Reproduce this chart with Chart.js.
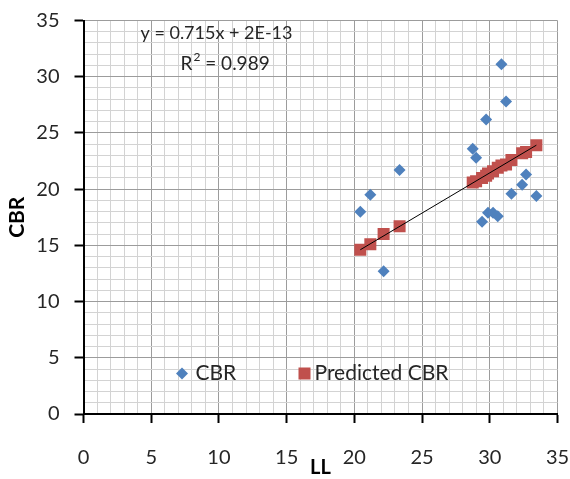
<!DOCTYPE html>
<html>
<head>
<meta charset="utf-8">
<script src="https://cdn.jsdelivr.net/npm/chart.js@4.4.1/dist/chart.umd.min.js"></script>
<style>
  html, body { margin: 0; padding: 0; background: #ffffff; }
  #wrap { width: 570px; height: 479px; }
</style>
</head>
<body>
<div id="wrap"><canvas id="chart" width="570" height="479"></canvas></div>
<script>
// Liquid limit (LL) of each sample
const llValues = [20.44, 21.18, 22.16, 23.34, 28.74, 28.99, 29.43, 29.73, 29.87,
                  30.24, 30.59, 30.86, 31.2, 31.6, 32.39, 32.68, 33.44];
// Measured CBR
const cbrValues = [18.0, 19.5, 12.7, 21.7, 23.6, 22.8, 17.1, 26.2, 17.9,
                   17.9, 17.6, 31.1, 27.8, 19.6, 20.4, 21.3, 19.4];
// CBR predicted by the model
const predictedCbr = [14.6, 15.1, 16.0, 16.7, 20.6, 20.7, 21.0, 21.2, 21.4,
                      21.6, 21.9, 22.1, 22.2, 22.6, 23.2, 23.3, 23.9];
// Linear trendline of the predicted values: y = 0.715x + 2E-13
const trendX = [20.44, 33.44];
const trendY = [14.61, 23.91];
const trendLabel = 'y = 0.715x + 2E-13';
const r2Value = '0.989';

const FONT = 'Lato, "Liberation Sans", sans-serif';
const TEXT = '#262626';
const BLUE = '#4F81BD';
const RED = '#C0504D';

const isMajor = v => Math.abs(v % 5) < 1e-9;

function gridFor() {
  return {
    color: ctx => (ctx.tick && isMajor(ctx.tick.value)) ? '#9c9c9c' : '#d3d3d3',
    lineWidth: 1,
    drawTicks: true,
    tickLength: 9,
    tickWidth: 2,
    tickColor: ctx => (ctx.tick && isMajor(ctx.tick.value)) ? '#000000' : 'rgba(0,0,0,0)'
  };
}

// Legend drawn inside the plot area plus the trendline equation
const overlayPlugin = {
  id: 'overlay',
  afterDatasetsDraw(chart) {
    const { ctx, chartArea: ca } = chart;
    ctx.save();
    ctx.textBaseline = 'middle';
    ctx.textAlign = 'left';
    ctx.fillStyle = TEXT;

    // equation
    ctx.font = '18px ' + FONT;
    ctx.fillText(trendLabel, ca.left + 57, ca.top + 13);
    const rx = ca.left + 97, ry = ca.top + 43;
    ctx.font = '19px ' + FONT;
    ctx.fillText('R', rx, ry);
    const rw = ctx.measureText('R').width;
    ctx.font = '12px ' + FONT;
    ctx.fillText('2', rx + rw + 1, ry - 6);
    const sw = ctx.measureText('2').width;
    ctx.font = '19px ' + FONT;
    ctx.fillText(' = ' + r2Value, rx + rw + 1 + sw, ry);

    // legend
    const ly = ca.top + 353;
    const dx = ca.left + 98.5;
    ctx.fillStyle = BLUE;
    ctx.beginPath();
    ctx.moveTo(dx, ly - 6); ctx.lineTo(dx + 6, ly); ctx.lineTo(dx, ly + 6); ctx.lineTo(dx - 6, ly);
    ctx.closePath(); ctx.fill();
    ctx.fillStyle = TEXT;
    ctx.font = '21px ' + FONT;
    ctx.fillText('CBR', ca.left + 112, ly);

    const sx = ca.left + 221;
    ctx.fillStyle = RED;
    ctx.fillRect(sx - 6, ly - 6, 12, 12);
    ctx.fillStyle = TEXT;
    ctx.fillText('Predicted CBR', ca.left + 231, ly);
    ctx.restore();
  }
};

new Chart(document.getElementById('chart'), {
  type: 'scatter',
  data: {
    datasets: [
      {
        label: 'Trendline',
        type: 'line',
        data: trendX.map((x, i) => ({ x, y: trendY[i] })),
        borderColor: '#000000',
        borderWidth: 1,
        pointRadius: 0,
        fill: false,
        order: 0
      },
      {
        label: 'Predicted CBR',
        data: llValues.map((x, i) => ({ x, y: predictedCbr[i] })),
        pointStyle: 'rect',
        pointRadius: 8.5,
        pointHoverRadius: 8.5,
        backgroundColor: RED,
        borderColor: RED,
        borderWidth: 0,
        order: 1
      },
      {
        label: 'CBR',
        data: llValues.map((x, i) => ({ x, y: cbrValues[i] })),
        pointStyle: 'rectRot',
        pointRadius: 6,
        pointHoverRadius: 6,
        backgroundColor: BLUE,
        borderColor: BLUE,
        borderWidth: 0,
        order: 2
      }
    ]
  },
  options: {
    responsive: false,
    animation: false,
    devicePixelRatio: 1,
    layout: { padding: { left: 0, top: 20.5, right: 12.5, bottom: 0 } },
    plugins: {
      legend: { display: false },
      tooltip: { enabled: false }
    },
    scales: {
      x: {
        type: 'linear',
        min: 0,
        max: 35,
        afterFit: s => { s.height = 65; s.paddingLeft = 0; s.paddingRight = 0; },
        border: { color: '#000000', width: 2 },
        grid: gridFor(),
        ticks: {
          stepSize: 1,
          autoSkip: false,
          maxRotation: 0,
          padding: 23,
          color: TEXT,
          font: { family: FONT, size: 20 },
          callback: v => isMajor(v) ? String(v) : ''
        },
        title: {
          display: true,
          text: 'LL',
          color: '#000000',
          font: { family: FONT, size: 20, weight: 'bold', lineHeight: 1.1 },
          padding: { top: 0, bottom: 0 }
        }
      },
      y: {
        type: 'linear',
        min: 0,
        max: 35,
        afterFit: s => { s.width = 83.5; s.paddingTop = 0; s.paddingBottom = 0; },
        border: { color: '#000000', width: 2 },
        grid: gridFor(),
        ticks: {
          stepSize: 1,
          autoSkip: false,
          padding: 15,
          color: TEXT,
          font: { family: FONT, size: 20 },
          callback: v => isMajor(v) ? String(v) : ''
        },
        title: {
          display: true,
          text: 'CBR',
          color: '#000000',
          font: { family: FONT, size: 21, weight: 'bold', lineHeight: 1.2 },
          padding: { top: 5, bottom: 0 }
        }
      }
    }
  },
  plugins: [overlayPlugin]
});
</script>
</body>
</html>
